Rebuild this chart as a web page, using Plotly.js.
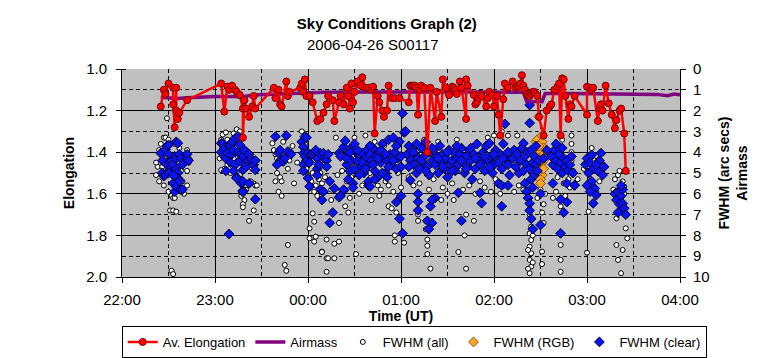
<!DOCTYPE html>
<html><head><meta charset="utf-8">
<script src="https://cdn.plot.ly/plotly-3.0.1.min.js"></script>
<style>html,body{margin:0;padding:0;background:#fff}#chart{width:766px;height:358px}</style>
</head><body><div id="chart"></div>
<script>
// Times are minutes after 22:00 UT
const elongMin = [25,27,28,30,33,33,34,35,35,36,37,42,64,66,68,69,71,73,74,76,78,78,79,80,82,84,85,86,98,99,101,102,103,106,107,108,115,116,117,118,119,121,123,126,128,130,132,133,136,137,140,141,143,145,146,147,148,149,150,152,154,155,157,159,161,162,163,165,166,168,169,171,172,174,176,179,185,186,187,188,189,190,191,192,193,195,197,199,202,203,206,207,209,211,213,214,215,216,218,219,222,222,223,227,228,229,230,231,232,235,236,237,239,240,242,243,244,246,247,249,252,254,255,256,257,258,259,260,261,262,263,264,265,266,267,268,269,272,274,276,277,279,281,282,283,284,285,286,288,289,290,292,300,300,302,303,304,307,308,309,310,312,314,316,318,319,321,322,324,325];
const elongVal = [1.18,1.10,1.12,1.07,1.09,1.17,1.28,1.09,1.20,1.24,1.21,1.15,1.07,1.205,1.085,1.10,1.08,1.10,1.11,1.125,1.19,1.33,1.15,1.19,1.23,1.18,1.13,1.19,1.09,1.14,1.10,1.17,1.18,1.06,1.13,1.11,1.09,1.07,1.11,1.05,1.13,1.13,1.16,1.25,1.24,1.21,1.17,1.13,1.15,1.25,1.16,1.13,1.17,1.09,1.13,1.19,1.07,1.16,1.11,1.06,1.08,1.04,1.09,1.09,1.10,1.085,1.31,1.13,1.16,1.20,1.23,1.20,1.08,1.14,1.14,1.14,1.16,1.08,1.08,1.08,1.08,1.09,1.22,1.10,1.08,1.09,1.40,1.09,1.25,1.11,1.23,1.05,1.09,1.125,1.085,1.09,1.10,1.12,1.06,1.09,1.24,1.05,1.08,1.125,1.17,1.16,1.14,1.12,1.13,1.18,1.14,1.11,1.125,1.18,1.13,1.22,1.32,1.145,1.07,1.09,1.06,1.09,1.08,1.085,1.07,1.03,1.08,1.10,1.12,1.125,1.13,1.12,1.11,1.11,1.12,1.13,1.23,1.32,1.20,1.18,1.17,1.10,1.085,1.07,1.32,1.045,1.05,1.13,1.24,1.17,1.18,1.13,1.22,1.085,1.09,1.10,1.09,1.25,1.19,1.17,1.20,1.08,1.165,1.22,1.285,1.245,1.20,1.19,1.31,1.49];

const airMin = [25,30,36,42,50,60,70,78,85,95,105,115,130,150,180,220,259,260,261,271,273,290,320,345,352,356,360];
const airVal = [1.36,1.40,1.42,1.38,1.35,1.32,1.32,1.33,1.25,1.22,1.18,1.14,1.12,1.11,1.10,1.10,1.12,1.30,1.55,1.57,1.18,1.18,1.20,1.22,1.28,1.20,1.24];

// [minute, FWHM arcsec]
const fwhmClear = [
[25,4.05],[26,5.0],[26,4.4],[27,5.15],[28,3.86],[29,3.7],[29,4.6],[30,3.65],[30,4.1],[31,4.45],[31,4.85],[32,4.4],[32,4.7],[33,4.6],[33,5.5],[34,4.2],[34,5.9],[35,3.5],[35,4.3],[35,4.8],[35,5.65],[36,3.57],[36,5.0],[36,5.3],[36,5.25],[37,4.1],[37,5.4],[38,4.3],[38,5.8],[39,4.6],[39,5.8],[42,4.3],[42,4.1],[43,4.4],[28,5.1],[30,5.0],[33,5.1],
[64,3.57],[64,4.0],[65,3.6],[66,3.8],[66,4.2],[67,4.3],[67,4.9],[68,4.05],[69,3.7],[70,3.65],[70,4.5],[71,3.5],[71,4.1],[72,3.9],[73,3.33],[73,4.6],[74,5.2],[74,5.25],[75,3.25],[75,4.0],[76,3.65],[76,4.4],[77,4.1],[77,5.5],[78,4.2],[78,4.85],[78,5.4],[78,5.85],[78,5.9],[79,3.9],[79,4.6],[80,4.7],[81,4.4],[82,4.1],[82,5.5],[83,4.3],[84,4.45],[85,4.6],[86,4.4],[86,4.85],[86,6.26],[69,7.93],[72,4.9],
[99,3.25],[106,3.2],[101,4.05],[103,4.4],[104,4.45],[105,4.3],[107,3.97],[109,4.1],[100,4.6],[102,3.9],
[116,3.5],[117,3.75],[117,4.05],[118,3.25],[119,3.3],[117,4.6],[117,4.9],[118,4.2],[119,4.4],[120,4.05],[120,5.25],[121,5.65],[121,4.5],[122,4.1],[123,4.1],[124,4.0],[125,3.9],[126,4.3],[126,4.8],[126,5.1],[127,4.6],[128,5.8],[128,4.05],[129,6.3],[130,4.05],[130,5.9],[131,4.3],[132,4.4],[132,4.7],[133,4.1],[134,5.4],
[134,7.4],[136,6.9],[137,5.74],[140,6.17],[143,5.85],[149,5.5],[159,5.6],[140,4.05],[141,4.2],[143,3.75],[144,3.45],[145,4.6],[146,4.05],[147,4.9],[148,4.4],[149,3.7],[150,3.6],[151,4.0],[152,4.4],[153,4.1],[154,4.7],[155,4.05],[156,5.0],[157,4.3],[158,3.9],[159,4.6],[160,4.1],[161,4.4],[162,3.8],[163,4.9],[164,4.2],[165,5.2],[166,4.0],[167,4.5],[168,3.6],[169,4.3],[170,5.0],[171,4.4],[172,3.4],[173,4.1],[174,4.6],[175,3.3],[176,4.0],[177,4.8],[178,4.3],[179,3.5],[180,4.2],[181,2.13],[182,3.05],[159,5.4],[160,5.65],[149,5.7],[143,5.8],[141,6.1],[177,6.4],[180,6.1],[179,7.2],[181,7.9],
[145,4.3],[147,4.0],[150,4.8],[152,3.9],[155,4.5],[157,4.8],[160,3.7],[162,4.6],[165,4.3],[167,3.9],[170,4.1],[172,4.7],[175,4.4],[177,3.7],[180,4.7],[153,5.1],[163,5.3],[171,5.2],[146,5.3],[168,5.0],
[183,3.0],[184,4.1],[185,3.7],[186,5.34],[186,4.4],[187,3.9],[188,4.6],[189,4.1],[190,3.6],[190,5.0],[191,6.38],[191,4.3],[192,4.8],[193,3.8],[194,4.5],[195,4.2],[196,3.5],[197,4.7],[198,5.1],[199,6.6],[199,4.0],[200,4.4],[201,3.9],[202,6.2],[202,4.6],[203,4.2],[204,5.0],[205,3.7],[206,4.5],[207,4.1],[208,4.8],[209,4.3],[210,5.2],[211,3.9],[212,4.6],[213,4.4],[214,4.0],[215,4.9],[216,4.3],[217,5.95],[217,4.6],[218,4.1],[219,3.8],[220,4.5],[221,5.0],[222,4.2],[223,4.7],[224,3.9],[225,4.4],[226,5.3],[227,4.1],[228,4.8],[229,3.6],[230,4.3],[231,5.95],[232,6.45],[232,4.5],[233,4.0],[234,4.9],[235,3.7],[236,4.4],[237,3.57],[238,4.2],[239,5.0],[240,4.6],[241,3.9],[242,4.3],[243,5.5],[244,4.1],[245,4.8],[246,3.6],[247,2.64],[248,4.4],[249,4.0],[250,5.1],[191,6.0],[191,6.8],[197,7.3],[200,7.4],[198,7.7],[200,6.3],[219,7.3],[245,6.6],[245,5.6],
[185,4.7],[188,4.0],[193,4.4],[196,4.9],[200,3.8],[204,4.3],[207,4.7],[210,4.0],[213,4.9],[216,3.7],[219,4.4],[222,4.8],[225,3.8],[228,4.3],[231,4.6],[234,4.2],[237,4.7],[240,4.1],[243,4.5],[246,4.3],[249,4.6],
[252,4.3],[253,3.9],[254,4.7],[255,4.1],[256,5.0],[257,4.4],[258,3.8],[259,3.57],[259,4.9],[260,4.2],[260,5.5],[261,4.6],[261,5.9],[262,4.0],[262,6.2],[263,1.73],[263,2.6],[263,4.8],[263,6.46],[263,6.8],[264,3.9],[264,5.3],[264,7.2],[265,4.5],[265,5.7],[265,7.7],[266,4.2],[266,5.1],[267,3.7],[267,4.6],[268,4.9],[269,4.4],[270,6.0],[270,7.5],[272,4.3],[274,3.9],[249,5.6],
[277,4.2],[278,4.6],[279,3.9],[280,4.4],[281,4.8],[282,4.1],[283,4.5],[284,5.0],[285,4.3],[286,4.7],[287,4.4],[288,4.9],[289,4.6],[290,4.2],[291,5.0],[292,5.58],[278,5.5],[283,6.27],[283,7.9],[285,6.9],[287,6.4],[287,5.5],[292,5.6],[280,3.6],[284,3.8],
[299,4.6],[300,4.3],[301,5.0],[302,4.5],[303,4.13],[303,5.4],[304,6.46],[304,4.8],[305,5.74],[306,6.06],[307,4.9],[308,4.4],[309,4.05],[310,5.1],[311,4.7],[300,5.6],[302,5.9],[306,4.6],
[318,6.0],[319,6.3],[320,5.9],[321,6.5],[322,6.1],[323,6.46],[323,5.8],[324,6.7],[325,7.0],[320,6.9],[322,5.6]
];

const fwhmRgb = [[269,2.29],[267,3.5],[268,3.4],[270,3.6],[271,3.5],[268,3.9],[270,4.0],[272,4.1],[269,4.3],[271,4.5],[270,4.7],[269,4.9],[271,5.1],[270,5.3],[270,5.5],[268,4.6],[272,3.8],[267,4.2],[271,3.2],[269,3.7],[272,4.8],[268,5.0],[270,4.4],[273,4.3]];

// remaining FWHM (all) measurements (the series also contains every RGB and clear point)
const fwhmAll = [
[29,2.37],[25,3.6],[27,3.3],[24,3.9],[28,3.3],[23,4.7],[30,3.4],[31,3.6],[26,4.7],[27,5.6],[30,5.9],[32,6.1],[33,6.2],[31,6.8],[33,6.8],[35,6.86],[34,6.2],[36,5.2],[42,3.9],[42,4.2],[42,4.9],[42,5.6],[43,4.5],[32,9.7],[33,9.86],[22,4.5],[22,5.1],[24,5.4],[37,3.8],[38,4.9],[29,4.2],[34,3.6],[39,5.4],[40,6.0],
[63,4.3],[64,3.4],[65,3.15],[67,3.05],[68,3.4],[70,3.7],[72,3.1],[74,2.9],[76,3.0],[78,3.35],[80,3.9],[82,4.6],[83,4.1],[84,4.8],[86,4.6],[85,5.5],[86,5.6],[83,5.4],[80,5.8],[79,6.3],[78,6.5],[77,6.1],[76,5.1],[72,4.3],[70,5.0],[68,4.6],[66,4.8],[64,4.86],[78,6.0],[78,6.65],[82,7.3],[85,6.8],[87,5.6],[87,4.4],
[97,3.57],[98,3.9],[99,4.1],[100,4.3],[101,4.4],[100,5.0],[102,5.2],[103,5.4],[99,5.4],[101,5.9],[103,6.1],[107,4.8],[108,4.4],[109,4.0],[110,3.7],[104,3.5],[107,8.46],[105,9.42],[106,9.7],[111,5.5],[113,4.5],
[116,3.0],[118,3.6],[119,4.8],[120,5.1],[121,5.6],[122,5.4],[123,5.0],[124,5.9],[125,5.6],[126,6.1],[127,5.3],[128,5.0],[129,5.5],[130,4.6],[131,5.2],[123,6.94],[124,7.34],[121,7.66],[121,8.14],[124,8.3],[125,8.06],[129,8.78],[132,8.2],[132,9.1],[132,9.75],[135,6.3],
[137,9.1],[137,8.4],[140,8.3],[140,7.4],[147,6.2],[151,8.9],[172,6.6],[176,8.0],[176,8.3],[182,8.35],[133,9.1],[129,8.8],[138,3.3],[142,4.9],[145,5.4],[148,5.2],[150,3.3],[152,5.1],[155,5.6],[158,5.5],[160,5.0],[162,5.3],[165,5.6],[167,5.8],[170,5.4],[172,5.6],[175,5.9],[178,5.0],[180,5.7],[179,6.2],[174,6.7],[177,6.9],[144,6.6],[146,6.9],[135,5.8],[139,5.1],[163,3.5],[157,3.2],[169,3.7],[153,6.0],[161,6.3],[166,6.1],
[191,7.3],[191,7.0],[196,7.3],[196,7.7],[197,8.2],[197,8.5],[197,8.9],[199,9.6],[206,6.3],[214,6.3],[217,8.8],[221,8.0],[222,7.0],[222,9.6],[227,7.3],[185,5.2],[188,5.6],[192,5.5],[195,3.4],[198,5.8],[201,5.3],[204,3.5],[207,5.7],[210,6.0],[213,5.5],[216,3.4],[220,5.8],[224,5.6],[228,6.0],[231,5.4],[234,5.7],[238,5.9],[241,5.3],[244,6.0],[247,5.6],[236,3.3],[240,3.2],[245,3.0],[249,3.2],
[263,7.0],[264,7.58],[263,7.9],[264,8.22],[263,8.54],[264,8.86],[263,9.18],[264,9.5],[263,9.82],[265,8.0],[262,8.7],[265,9.3],[262,9.6],[271,6.0],[272,6.5],[271,6.9],[272,7.4],[271,8.78],[271,9.38],[273,6.0],[270,5.8],[268,6.2],[259,5.8],[256,5.6],[253,5.9],[255,3.2],
[280,5.9],[283,6.6],[283,8.46],[283,9.18],[283,9.75],[281,5.2],[285,5.5],[288,5.3],[290,3.2],[290,3.6],[290,4.0],[290,4.4],[291,4.9],[289,5.7],[286,6.1],[278,6.2],[294,5.3],[284,3.4],
[301,6.86],[300,8.83],[302,5.3],[304,5.6],[306,5.9],[308,5.4],[305,4.4],[310,5.0],[298,4.8],[303,3.8],
[320,5.1],[318,5.3],[323,5.4],[324,5.66],[317,5.8],[319,6.2],[319,7.18],[325,7.66],[326,8.14],[319,8.46],[323,8.7],[320,9.18],[322,9.82],[321,4.9],[324,6.0]
];

const xTickVals = [22,23,24,25,26,27,28];
const xTickText = ['22:00','23:00','00:00','01:00','02:00','03:00','04:00'];

const FONT = '"Liberation Sans", Arial, sans-serif';
const hr = m => 22 + m / 60;
const allPts = fwhmAll.concat(fwhmRgb, fwhmClear);

const traces = [
  {type:'scatter', mode:'markers', name:'FWHM (all)', legendrank:3, yaxis:'y',
   x: allPts.map(p => hr(p[0])), y: allPts.map(p => p[1]),
   marker:{symbol:'circle', size:5, color:'#ffffff', line:{color:'#000000', width:1}}},
  {type:'scatter', mode:'markers', name:'FWHM (RGB)', legendrank:4, yaxis:'y',
   x: fwhmRgb.map(p => hr(p[0])), y: fwhmRgb.map(p => p[1]),
   marker:{symbol:'diamond', size:7.5, color:'#ffa526', line:{color:'#8a5200', width:1}}},
  {type:'scatter', mode:'markers', name:'FWHM (clear)', legendrank:5, yaxis:'y',
   x: fwhmClear.map(p => hr(p[0])), y: fwhmClear.map(p => p[1]),
   marker:{symbol:'diamond', size:7.5, color:'#0a14f0', line:{color:'#000030', width:1}}},
  {type:'scatter', mode:'lines', name:'Airmass', legendrank:2, yaxis:'y',
   x: airMin.map(hr), y: airVal,
   line:{color:'#800080', width:3.5}},
  {type:'scatter', mode:'lines+markers', name:'Av. Elongation', legendrank:1, yaxis:'y2',
   x: elongMin.map(hr), y: elongVal,
   line:{color:'#ff0000', width:2.5},
   marker:{symbol:'circle', size:7, color:'#ff0000', line:{color:'#7a0000', width:1}}}
];

const layout = {
  width:766, height:358,
  margin:{l:122, r:86, t:69, b:81, pad:0, autoexpand:false},
  paper_bgcolor:'#ffffff', plot_bgcolor:'#c0c0c0',
  font:{family:FONT, color:'#000000', size:13},
  title:{text:'<b>Sky Conditions Graph (2)</b>', xref:'container', x:0.505, xanchor:'center',
         yref:'container', y:1 - 24/358, yanchor:'middle', font:{size:15, family:FONT, color:'#000'}},
  annotations:[{text:'2006-04-26 S00117', xref:'paper', yref:'paper', x:(373-122)/558, y:(277-45)/208,
                xanchor:'center', yanchor:'middle', showarrow:false, font:{size:15, family:FONT, color:'#000'}}],
  showlegend:true,
  legend:{orientation:'h', xref:'paper', yref:'paper', x:-0.0005, xanchor:'left',
          y:(277-326)/208, yanchor:'top',
          bgcolor:'#ffffff', bordercolor:'#000000', borderwidth:1,
          font:{size:13, family:FONT, color:'#000'}, traceorder:'normal', itemwidth:30},
  xaxis:{range:[22,28], tickmode:'array', tickvals:xTickVals, ticktext:xTickText,
         ticks:'outside', ticklen:5, tickcolor:'#000', tickfont:{size:15}, ticklabelstandoff:4,
         showline:true, linecolor:'#000', linewidth:1, zeroline:false,
         showgrid:true, gridcolor:'#000', gridwidth:1,
         minor:{tickmode:'array', tickvals:[22.5,23.5,24.5,25.5,26.5,27.5], showgrid:true,
                gridcolor:'#000', gridwidth:1, griddash:'4px,3px', ticks:''},
         title:{text:'<b>Time (UT)</b>', font:{size:14}, standoff:0}},
  yaxis:{side:'right', range:[10,0], tickmode:'linear', tick0:0, dtick:1,
         ticks:'outside', ticklen:5, tickcolor:'#000', tickfont:{size:15}, ticklabelstandoff:4,
         showline:true, linecolor:'#000', linewidth:1, showgrid:false, zeroline:false,
         title:{text:'<b>FWHM (arc secs)</b><br><b>Airmass</b>', font:{size:14}, standoff:10}},
  yaxis2:{overlaying:'y', side:'left', range:[2,1], tickmode:'linear', tick0:1, dtick:0.2, tickformat:'.1f',
          ticks:'outside', ticklen:5, tickcolor:'#000', tickfont:{size:15}, ticklabelstandoff:6,
          showline:true, linecolor:'#000', linewidth:1, zeroline:false,
          showgrid:true, gridcolor:'#000', gridwidth:1,
          minor:{tickmode:'linear', tick0:1, dtick:0.1, showgrid:true, gridcolor:'#000', gridwidth:1,
                 griddash:'4px,3px', ticks:'inside', ticklen:4, tickcolor:'#000'},
          title:{text:'<b>Elongation</b>', font:{size:14}, standoff:8}}
};

Plotly.newPlot('chart', traces, layout, {displayModeBar:false, staticPlot:true});
</script>
</body></html>
